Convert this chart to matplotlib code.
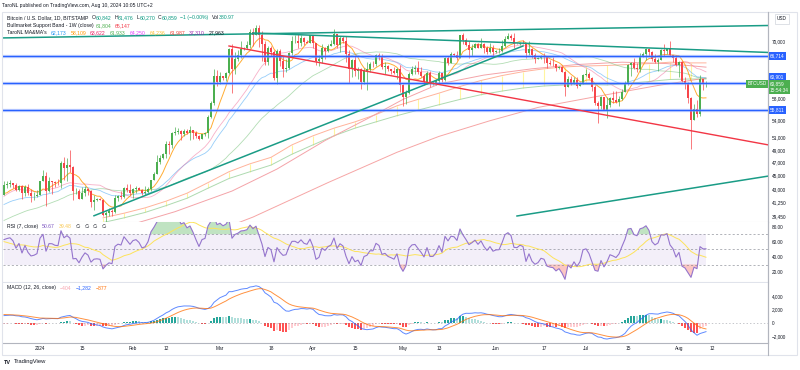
import numpy as np
import pandas as pd
import matplotlib
matplotlib.use('Agg')
import matplotlib.pyplot as plt
import matplotlib.dates as mdates
import matplotlib.transforms as mtransforms
from matplotlib.patches import Rectangle
from matplotlib.lines import Line2D

plt.rcParams['font.family'] = ['Liberation Sans', 'DejaVu Sans']

# Закрытия до начала графика (1 ноя - 19 дек 2023), только для прогрева индикаторов, тыс. USD
warmup_closes = [
    35.42, 34.94, 34.73, 35.08, 35.05, 35.04, 35.42, 35.63, 36.69, 37.31, 37.14, 37.06, 36.49, 35.55, 37.86,
    36.16, 36.59, 36.58, 37.38, 37.47, 35.81, 37.42, 37.29, 37.72, 37.79, 37.48, 37.25, 37.83, 37.86, 37.72,
    38.69, 39.46, 39.97, 41.98, 44.08, 43.77, 43.29, 44.17, 43.72, 43.79, 41.24, 41.45, 42.89, 43.02, 41.94,
    42.26, 41.36, 42.66, 42.26,
]

# Дневные свечи с 20 дек 2023 по 10 авг 2024, тыс. USD
closes = [
    43.65, 43.86, 43.99, 43.72, 43.01, 43.58, 42.52, 43.44, 42.58, 42.07, 42.14, 42.28,
    44.18, 44.95, 42.85, 44.18, 44.16, 43.97, 43.93, 46.97, 46.12, 46.63, 46.35, 42.78, 42.84, 41.73, 42.51,
    43.14, 42.74, 41.26, 41.62, 41.66, 41.58, 39.51, 39.85, 40.08, 39.93, 41.79, 42.12, 42.03, 43.30, 42.94, 42.58,
    43.07, 43.19, 42.99, 42.58, 42.66, 43.09, 44.34, 45.29, 47.15, 47.77, 48.29, 50.00, 49.74, 51.83, 51.94,
    52.12, 51.66, 52.13, 51.78, 52.26, 51.85, 51.30, 50.73, 51.57, 51.73, 54.48, 57.07, 62.50, 61.20,
    62.39, 61.99, 63.11, 68.27, 63.80, 66.07, 66.87, 68.28, 68.47, 69.02, 72.10, 71.45, 73.08, 71.40, 69.40,
    65.32, 68.39, 67.60, 61.98, 67.85, 65.50, 63.80, 64.03, 67.21, 69.90, 69.95, 69.46, 70.74, 69.87, 69.63, 71.30,
    69.65, 65.46, 65.95, 68.51, 67.84, 68.90, 69.36, 71.62, 69.13, 70.59, 70.06, 67.12, 63.90, 65.70, 63.43,
    63.80, 61.28, 63.47, 63.80, 64.94, 64.93, 66.84, 66.40, 64.29, 64.50, 63.76, 63.46, 63.12, 63.84, 60.64,
    58.25, 59.12, 62.89, 63.89, 64.03, 63.16, 62.33, 61.19, 63.07, 60.80, 60.82, 61.47, 62.93, 61.57, 66.23,
    65.23, 67.04, 66.94, 66.27, 71.44, 70.14, 69.12, 67.93, 68.52, 69.29, 68.50, 69.39, 68.37, 67.62, 68.36, 67.53,
    67.74, 67.77, 68.80, 70.57, 71.09, 70.79, 69.35, 69.31, 69.65, 69.51, 67.32, 68.24, 66.77, 66.01, 66.19,
    66.64, 66.49, 65.17, 64.94, 64.83, 64.10, 64.25, 63.19, 60.28, 61.80, 60.86, 61.61, 60.32, 60.89, 62.68,
    62.85, 62.05, 60.22, 57.05, 56.63, 58.23, 55.85, 56.71, 58.04, 57.72, 57.34, 57.89, 59.20, 60.80, 64.72,
    65.05, 64.10, 63.93, 66.62, 67.11, 68.17, 67.58, 65.92, 65.37, 65.77, 67.91, 67.85, 68.26, 66.80, 66.19, 64.63,
    65.34, 61.48, 60.70, 58.12, 53.99, 56.03, 55.12, 61.70, 60.84, 60.859,
]
highs = [
    44.28, 44.23, 44.36, 43.80, 43.94, 43.68, 43.60, 43.68, 43.80, 43.12, 42.60, 42.90,
    44.20, 45.90, 45.50, 44.75, 44.30, 44.20, 44.50, 47.20, 47.90, 47.70, 48.97, 46.50, 43.25, 43.07, 43.35,
    43.57, 43.20, 42.90, 42.20, 41.85, 41.89, 41.70, 40.15, 40.50, 40.30, 42.20, 42.20, 42.80, 43.32, 43.85, 43.73,
    43.30, 43.48, 43.38, 43.12, 43.50, 43.40, 44.40, 45.60, 48.20, 48.15, 48.55, 50.35, 50.37, 52.00, 52.82,
    52.58, 52.20, 52.40, 52.50, 52.98, 52.35, 52.05, 51.50, 51.67, 51.95, 54.90, 57.55, 63.90, 63.60,
    63.20, 62.40, 63.23, 68.50, 69.20, 67.60, 67.95, 69.95, 68.60, 70.00, 72.80, 72.95, 73.65, 73.80, 72.40,
    70.00, 68.90, 68.90, 68.05, 68.10, 68.20, 66.60, 65.90, 67.60, 71.10, 71.50, 71.70, 71.50, 70.90, 70.30, 71.35,
    71.30, 69.65, 66.90, 69.25, 68.70, 69.25, 70.30, 72.70, 71.70, 71.10, 71.25, 71.20, 67.90, 65.90, 66.80,
    64.35, 64.10, 64.00, 65.40, 65.40, 65.60, 67.15, 67.20, 67.05, 65.25, 64.75, 63.90, 64.30, 64.15, 64.60,
    60.80, 59.60, 63.30, 64.50, 64.60, 65.50, 64.35, 62.90, 63.40, 63.40, 61.40, 61.80, 63.40, 63.10, 66.45,
    66.70, 67.45, 67.40, 67.70, 71.50, 71.95, 70.60, 70.00, 69.20, 69.50, 69.50, 70.60, 69.55, 68.90, 69.50, 69.00,
    67.95, 68.40, 70.20, 71.05, 71.75, 71.60, 71.95, 69.60, 69.85, 70.15, 69.55, 69.99, 68.40, 67.30, 66.40,
    66.90, 67.20, 66.50, 65.70, 66.50, 65.00, 64.55, 64.55, 63.35, 62.35, 62.40, 62.30, 62.20, 61.20, 62.90,
    63.80, 63.20, 62.25, 60.50, 57.50, 58.50, 58.20, 58.20, 58.30, 59.40, 59.50, 58.50, 59.80, 61.40, 64.90,
    65.35, 66.10, 65.05, 67.40, 67.60, 68.35, 68.45, 67.80, 67.10, 66.10, 68.20, 69.40, 68.30, 70.00, 66.95, 66.80,
    65.60, 65.60, 62.15, 61.10, 58.30, 57.00, 57.70, 62.70, 61.70, 61.476,
]
lows = [
    42.20, 43.30, 43.42, 43.30, 42.80, 42.80, 41.65, 42.10, 42.30, 41.30, 41.52, 41.97,
    42.20, 44.20, 40.75, 42.60, 42.45, 43.40, 43.60, 43.20, 44.40, 44.30, 45.60, 41.50, 42.45, 41.70, 41.70,
    42.05, 42.20, 40.68, 40.27, 41.45, 41.50, 39.43, 38.55, 39.50, 39.50, 39.82, 41.40, 41.65, 41.80, 42.70, 42.28,
    41.88, 42.58, 42.88, 42.30, 42.28, 42.57, 42.78, 44.33, 45.25, 46.84, 47.55, 47.72, 48.30, 49.32, 51.35,
    51.59, 50.65, 51.30, 51.55, 50.55, 50.80, 50.90, 50.55, 50.70, 51.30, 50.90, 54.45, 56.70, 60.40,
    60.80, 61.60, 61.30, 62.85, 59.00, 62.90, 65.60, 66.20, 68.05, 68.20, 68.50, 68.90, 71.35, 68.60, 65.60,
    64.80, 64.60, 66.60, 61.60, 60.80, 64.50, 62.30, 63.30, 63.85, 66.75, 69.45, 68.40, 68.95, 69.10, 69.50, 69.60,
    68.30, 64.60, 64.50, 65.10, 66.00, 67.50, 68.80, 69.10, 68.30, 67.55, 69.60, 65.30, 61.00, 62.30, 62.40,
    61.80, 59.80, 60.80, 59.70, 63.20, 64.30, 64.55, 65.85, 63.80, 62.80, 63.40, 62.85, 62.90, 61.90, 59.20,
    56.55, 56.95, 58.80, 62.60, 62.90, 62.80, 62.30, 60.60, 60.75, 60.20, 60.50, 60.60, 60.80, 61.10, 61.40,
    64.60, 65.10, 66.60, 65.85, 66.10, 69.20, 68.80, 66.30, 66.60, 68.50, 68.40, 68.30, 67.20, 67.10, 67.20, 66.70,
    67.40, 67.30, 67.60, 68.60, 70.40, 70.20, 68.50, 69.20, 69.15, 69.25, 66.10, 66.90, 66.30, 65.10, 65.90,
    66.00, 65.10, 64.10, 64.70, 64.50, 63.40, 63.95, 63.20, 58.40, 60.25, 60.60, 60.70, 60.00, 60.35, 60.70,
    62.50, 61.80, 59.40, 56.80, 53.50, 56.00, 55.75, 54.30, 56.30, 57.20, 57.10, 56.55, 57.75, 59.20, 60.65,
    62.40, 63.95, 63.25, 63.30, 66.50, 65.80, 66.60, 65.45, 65.15, 63.50, 65.75, 66.70, 67.05, 66.65, 65.30, 64.50,
    62.30, 61.20, 59.85, 57.20, 49.05, 53.95, 54.60, 54.75, 59.60, 60.270,
]

sma100_dates = ['2024-02-01', '2024-02-15', '2024-03-05', '2024-03-20', '2024-04-05', '2024-04-20', '2024-05-01',
                '2024-05-13', '2024-05-28', '2024-06-13', '2024-06-28', '2024-07-13', '2024-07-28', '2024-08-10']
sma100_vals = [38.4, 40.0, 42.8, 46.0, 50.5, 54.5, 57.8, 60.8, 62.6, 63.9, 64.8, 65.3, 65.0, 64.25]
sma200_dates = ['2024-02-20', '2024-03-12', '2024-04-06', '2024-04-29', '2024-05-13', '2024-05-30',
                '2024-06-15', '2024-07-05', '2024-07-25', '2024-08-10']
sma200_vals = [36.3, 39.3, 44.0, 48.6, 51.2, 53.9, 56.3, 58.4, 60.5, 61.99]

# Bullmarket Support Band (1W), по понедельникам с 22 янв 2024
bmsb_upper = [39.2, 39.8, 40.5, 41.4, 42.5, 44.0, 45.6, 46.8, 47.8, 49.8, 51.3, 52.6, 53.7, 55.0, 56.6,
              57.8, 59.0, 60.3, 61.5, 62.5, 63.3, 63.9, 64.3, 64.5, 64.6, 64.8, 65.0, 65.3, 65.15]
bmsb_lower = [38.6, 39.2, 39.9, 40.8, 41.8, 43.2, 44.6, 45.6, 46.6, 48.3, 49.8, 51.3, 52.6, 53.7, 54.8,
              55.8, 56.8, 57.8, 58.7, 59.4, 60.0, 60.4, 60.6, 60.7, 60.6, 60.9, 61.3, 61.7, 61.8]

# Горизонтальные уровни и трендовые линии автора
levels = [66714, 60901, 55811]
teal_lines = [
    (('2023-12-18', 70690), ('2024-08-31', 73650)),
    (('2024-03-12', 71860), ('2024-08-31', 67410)),
    (('2024-01-19', 39470), ('2024-06-10', 68860)),
    (('2024-06-08', 39440), ('2024-08-31', 44970)),
]
red_line = (('2024-03-04', 68860), ('2024-08-31', 49770))

price_ticks = [70000, 58000, 54000, 51000, 49000, 47000, 45000, 43000, 41250, 39450]
time_ticks = ['2024-01-01', '2024-01-15', '2024-02-01', '2024-02-12', '2024-03-01', '2024-03-18', '2024-04-01',
              '2024-04-15', '2024-05-01', '2024-05-13', '2024-06-01', '2024-06-17', '2024-07-01', '2024-07-15',
              '2024-08-01', '2024-08-12']
time_labels = ['2024', '15', 'Feb', '12', 'Mar', '18', 'Apr', '15', 'May', '13', 'Jun', '17', 'Jul', '15', 'Aug', '12']

# ---- индикаторы ----
s = pd.Series(np.r_[warmup_closes, closes] * 1000,
              index=pd.date_range('2023-11-01', periods=len(warmup_closes) + len(closes)))
sma7 = s.rolling(7).mean()
sma21 = s.rolling(21).mean()
ema30 = s.ewm(span=30, adjust=False).mean()
sma50 = s.rolling(50).mean()

delta = s.diff()
gain = delta.clip(lower=0).ewm(alpha=1 / 7, adjust=False).mean()
loss = (-delta.clip(upper=0)).ewm(alpha=1 / 7, adjust=False).mean()
rsi = 100 - 100 / (1 + gain / loss)
rsi_ma = rsi.rolling(14).mean()

macd = s.ewm(span=12, adjust=False).mean() - s.ewm(span=26, adjust=False).mean()
signal = macd.ewm(span=9, adjust=False).mean()
hist = macd - signal
prev = hist.shift(1)
hist_col = np.where(hist >= 0, np.where(hist >= prev, '#26a69a', '#b2dfdb'),
                    np.where(hist < prev, '#ff5252', '#ffcdd2'))

n0 = len(warmup_closes)
dates = s.index[n0:]
x = mdates.date2num(dates)
c = np.array(closes) * 1000
o = s.values[n0 - 1:-1]
h = np.maximum(np.array(highs) * 1000, np.maximum(o, c))
l = np.minimum(np.array(lows) * 1000, np.minimum(o, c))

# ---- разметка в пикселях ----
W, H = 800, 370
fx = lambda px: px / W
fy = lambda py: 1 - py / H

fig = plt.figure(figsize=(8, 3.7), dpi=100)
L, R = 3, 768
ax_p = fig.add_axes([fx(L), fy(222), fx(R) - fx(L), fy(12) - fy(222)])
ax_r = fig.add_axes([fx(L), fy(282), fx(R) - fx(L), fy(222) - fy(282)], sharex=ax_p)
ax_m = fig.add_axes([fx(L), fy(343), fx(R) - fx(L), fy(283) - fy(343)], sharex=ax_p)

jan1 = mdates.date2num(pd.Timestamp('2024-01-01'))
ax_p.set_xlim(jan1 - 12.33, jan1 + 242.67)

GRAY = '#131722'
AX = 3.4

# ---- цена ----
ax_p.set_yscale('log')
ax_p.set_ylim(38670, 76980)

# BMSB
wk = mdates.date2num(pd.date_range('2024-01-22', periods=len(bmsb_upper), freq='7D'))
bu = np.array(bmsb_upper) * 1000
bl = np.array(bmsb_lower) * 1000
ax_p.vlines(wk, bl, bu, color='#fff176', lw=0.8, alpha=0.7, zorder=1)
ax_p.plot(np.r_[wk, x[-1]], np.r_[bu, bu[-1]], color='#ffab91', lw=0.7, alpha=0.9, zorder=1)
ax_p.plot(np.r_[wk, x[-1]], np.r_[bl, bl[-1]], color='#a5d6a7', lw=0.7, alpha=0.9, zorder=1)

ax_p.plot(mdates.date2num(pd.to_datetime(sma100_dates)), np.array(sma100_vals) * 1000,
          color='#f4a3a8', lw=0.7, zorder=1)
ax_p.plot(mdates.date2num(pd.to_datetime(sma200_dates)), np.array(sma200_vals) * 1000,
          color='#f48f8f', lw=0.7, alpha=0.8, zorder=1)

ax_p.plot(x, sma50.values[n0:], color='#66bb6a', lw=0.6, alpha=0.5, zorder=1)
ax_p.plot(x, ema30.values[n0:], color='#42a5f5', lw=0.6, alpha=0.55, zorder=1)
ax_p.plot(x, sma21.values[n0:], color='#f06292', lw=0.6, alpha=0.5, zorder=1)
ax_p.plot(x, sma7.values[n0:], color='#ff9800', lw=0.7, alpha=0.8, zorder=1)

cols = np.where(c >= o, '#4caf50', '#f7454a')
ax_p.vlines(x, l, h, colors=cols, lw=0.5, zorder=2)
ax_p.bar(x, np.abs(c - o), bottom=np.minimum(o, c), width=0.62, color=cols, lw=0, zorder=2)

for lv in levels:
    ax_p.axhline(lv, color='#90a8ff', lw=2.4, alpha=0.45, zorder=3)
    ax_p.axhline(lv, color='#2962ff', lw=1.0, zorder=3)

for (d1, p1), (d2, p2) in teal_lines:
    ax_p.plot(mdates.date2num(pd.to_datetime([d1, d2])), [p1, p2], color='#1a9c86', lw=1.1, zorder=3)
(d1, p1), (d2, p2) = red_line
ax_p.plot(mdates.date2num(pd.to_datetime([d1, d2])), [p1, p2], color='#f23645', lw=1.0, zorder=3)

# ---- RSI ----
ax_r.set_ylim(7, 86)
rv = rsi.values[n0:]
rm = rsi_ma.values[n0:]
ax_r.fill_between(x, 30, 70, color='#7e57c2', alpha=0.09, lw=0)
for lv in (70, 50, 30):
    ax_r.axhline(lv, color='#787b86', lw=0.5, ls=(0, (3, 3)), alpha=0.8)
ax_r.fill_between(x, 70, rv, where=rv > 70, interpolate=True, color='#4caf50', alpha=0.35, lw=0)
ax_r.fill_between(x, 30, rv, where=rv < 30, interpolate=True, color='#f44336', alpha=0.3, lw=0)
ax_r.plot(x, rm, color='#fde35a', lw=0.7)
ax_r.plot(x, rv, color='#9575cd', lw=0.8)

# ---- MACD ----
ax_m.set_ylim(-2963, 5926)
ax_m.axhline(0, color='#787b86', lw=0.5, ls=(0, (2, 3)), alpha=0.6)
ax_m.bar(x, hist.values[n0:], width=0.7, color=hist_col[n0:], lw=0)
ax_m.plot(x, macd.values[n0:], color='#2962ff', lw=0.7, alpha=0.75)
ax_m.plot(x, signal.values[n0:], color='#ff6d00', lw=0.7, alpha=0.75)

# ---- оси ----
for a in (ax_p, ax_r, ax_m):
    for sp in a.spines.values():
        sp.set_visible(False)
    a.spines['right'].set_visible(True)
    a.spines['right'].set_color('#b2b5be')
    a.spines['right'].set_linewidth(0.8)
    a.spines['bottom'].set_visible(True)
    a.spines['bottom'].set_color('#e0e3eb')
    a.spines['bottom'].set_linewidth(0.8)
    a.yaxis.tick_right()
    a.tick_params(axis='y', length=0, pad=2.8, labelsize=AX, labelcolor=GRAY)
    a.tick_params(axis='x', length=0, labelbottom=False)
    a.set_facecolor('white')
ax_m.spines['bottom'].set_color('#b2b5be')

ax_p.yaxis.set_minor_locator(matplotlib.ticker.NullLocator())
ax_p.set_yticks(price_ticks)
ax_p.set_yticklabels([f'{v:,}' for v in price_ticks])
ax_r.set_yticks([80, 60, 40, 20])
ax_r.set_yticklabels(['80.00', '60.00', '40.00', '20.00'])
ax_m.set_yticks([4000, 2000, 0, -2000])
ax_m.set_yticklabels(['4,000', '2,000', '0', '\u22122,000'])
ax_m.set_xticks(mdates.date2num(pd.to_datetime(time_ticks)))
ax_m.set_xticklabels(time_labels)
ax_m.tick_params(axis='x', labelbottom=True, labelsize=AX, labelcolor=GRAY, pad=2)

# ---- метки цены на шкале ----
tr = mtransforms.blended_transform_factory(fig.transFigure, ax_p.transData)
def price_box(val, txt, color, dy=0, tx=fx(770), ha='left'):
    t = mtransforms.offset_copy(tr, fig=fig, y=dy, units='dots')
    ax_p.text(tx, val, txt, transform=t, ha=ha, va='center', fontsize=AX, color='white',
              bbox=dict(boxstyle='square,pad=0.3', fc=color, ec='none'), zorder=10, clip_on=False)

price_box(levels[0], '66,714', '#2962ff')
price_box(levels[1], '60,901', '#2962ff', dy=6.5)
price_box(levels[2], '55,811', '#2962ff')
price_box(c[-1], '60,859\n15:54:34', '#4caf50', dy=-3.5)
price_box(c[-1], 'BTCUSD', '#4caf50', tx=fx(766.5), ha='right')

fig.text(fx(782), fy(19), 'USD', fontsize=AX, color=GRAY, ha='center', va='center',
         bbox=dict(boxstyle='square,pad=0.5', fc='white', ec='#d1d4dc', lw=0.5))

# ---- легенды (цветные куски текста подряд) ----
renderer = fig.canvas.get_renderer()
def legend_row(px, py, parts, size=3.7, gap=2.5):
    xpos = px
    for txt, col in parts:
        if txt.startswith(' '):
            xpos += gap
            txt = txt.strip()
        t = fig.text(fx(xpos), fy(py), txt, color=col, fontsize=size, va='center', ha='left', zorder=12)
        xpos += t.get_window_extent(renderer).width

fig.text(fx(2), fy(6), 'TaroNL published on TradingView.com, Aug 10, 2024 10:05 UTC+2',
         fontsize=3.6, color=GRAY, va='center')
UP = '#089981'
legend_row(7, 17.5, [('Bitcoin / U.S. Dollar, 1D, BITSTAMP', GRAY), (' O', GRAY), ('60,842', UP), (' H', GRAY),
                     ('61,476', UP), (' L', GRAY), ('60,270', UP), (' C', GRAY), ('60,859', UP),
                     (' \u22121 (\u22120.00%)', UP), (' Vol', GRAY), ('380.97', UP)], gap=3)
legend_row(7, 25.3, [('Bullmarket Support Band - 1W (close)', GRAY), (' 61,804', '#4caf50'),
                     (' 65,147', '#f23645')])
legend_row(7, 32.7, [("TaroNL MA&MA's", GRAY), (' 62,173', '#2196f3'), (' 58,109', '#ff9800'),
                     (' 63,622', '#e91e63'), (' 61,933', '#4caf50'), (' 64,250', '#e040fb'),
                     (' 64,236', '#fbc02d'), (' 61,987', '#f44336'), (' 37,310', '#9c27b0'),
                     (' 27,963', GRAY)], gap=4)
legend_row(7, 226.5, [('RSI (7, close)', GRAY), (' 50.67', '#7e57c2'), (' 39.48', '#f9c74f'),
                      (' \u2205', GRAY), (' \u2205', GRAY), (' \u2205', GRAY), (' \u2205', GRAY)], gap=4)
legend_row(7, 288, [('MACD (12, 26, close)', GRAY), (' \u2212404', '#f8a5b0'), (' \u22121,282', '#2962ff'),
                    (' \u2212877', '#ff6d00')], gap=4)

# ---- рамка и логотип ----
fig.patches.append(Rectangle((fx(2), fy(355)), fx(797) - fx(2), fy(12) - fy(355), transform=fig.transFigure,
                             fill=False, ec='#e0e3eb', lw=0.8))
fig.lines.append(Line2D([fx(R), fx(R)], [fy(355), fy(12)], transform=fig.transFigure, color='#b2b5be', lw=0.8))
fig.text(fx(4), fy(362), 'TV', fontsize=4, fontweight='bold', color=GRAY, va='center')
fig.text(fx(14), fy(362), 'TradingView', fontsize=4.2, color=GRAY, va='center')

fig.savefig('out.png', dpi=100, facecolor='white')
